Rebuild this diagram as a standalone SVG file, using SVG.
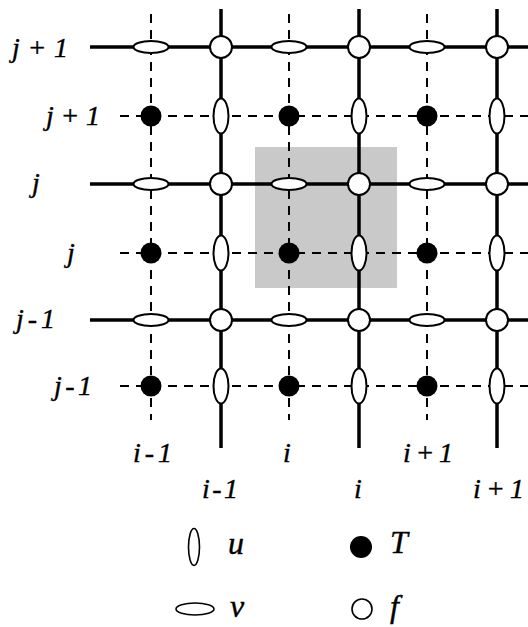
<svg xmlns="http://www.w3.org/2000/svg" width="528" height="627" viewBox="0 0 528 627">
<style>
.lbl{font-family:"Liberation Serif","Times New Roman",serif;font-style:italic;font-size:28px;fill:#000;stroke:#000;stroke-width:0.4}
.leg{font-size:32px}
.sol{stroke:#000;stroke-width:3.5;fill:none}
.dsh{stroke:#000;stroke-width:2;stroke-dasharray:9 7;fill:none}
.u,.v,.f{fill:#fff;stroke:#000;stroke-width:2}
.T{fill:#000}
</style>
<rect x="255" y="147" width="142" height="141" fill="#c9c9c9"/>
<g id="connectors">
<g id="dashed">
<line class="dsh" x1="151" y1="14" x2="151" y2="420"/>
<line class="dsh" x1="289" y1="14" x2="289" y2="420"/>
<line class="dsh" x1="427" y1="14" x2="427" y2="420"/>
<line class="dsh" x1="120" y1="116" x2="528" y2="116"/>
<line class="dsh" x1="120" y1="253" x2="528" y2="253"/>
<line class="dsh" x1="120" y1="386" x2="528" y2="386"/>
</g>
<g id="solid">
<line class="sol" x1="221" y1="9" x2="221" y2="448"/>
<line class="sol" x1="359" y1="9" x2="359" y2="448"/>
<line class="sol" x1="497" y1="9" x2="497" y2="448"/>
<line class="sol" x1="90" y1="47" x2="528" y2="47"/>
<line class="sol" x1="90" y1="184" x2="528" y2="184"/>
<line class="sol" x1="90" y1="320" x2="528" y2="320"/>
</g>
</g>
<g id="v-nodes">
<ellipse class="v" cx="151" cy="47" rx="17.5" ry="6"/>
<ellipse class="v" cx="289" cy="47" rx="17.5" ry="6"/>
<ellipse class="v" cx="427" cy="47" rx="17.5" ry="6"/>
<ellipse class="v" cx="151" cy="184" rx="17.5" ry="6"/>
<ellipse class="v" cx="289" cy="184" rx="17.5" ry="6"/>
<ellipse class="v" cx="427" cy="184" rx="17.5" ry="6"/>
<ellipse class="v" cx="151" cy="320" rx="17.5" ry="6"/>
<ellipse class="v" cx="289" cy="320" rx="17.5" ry="6"/>
<ellipse class="v" cx="427" cy="320" rx="17.5" ry="6"/>
</g>
<g id="u-nodes">
<ellipse class="u" cx="221" cy="116" rx="7.5" ry="17.5"/>
<ellipse class="u" cx="359" cy="116" rx="7.5" ry="17.5"/>
<ellipse class="u" cx="497" cy="116" rx="7.5" ry="17.5"/>
<ellipse class="u" cx="221" cy="253" rx="7.5" ry="17.5"/>
<ellipse class="u" cx="359" cy="253" rx="7.5" ry="17.5"/>
<ellipse class="u" cx="497" cy="253" rx="7.5" ry="17.5"/>
<ellipse class="u" cx="221" cy="386" rx="7.5" ry="17.5"/>
<ellipse class="u" cx="359" cy="386" rx="7.5" ry="17.5"/>
<ellipse class="u" cx="497" cy="386" rx="7.5" ry="17.5"/>
</g>
<g id="f-nodes">
<circle class="f" cx="221" cy="47" r="11"/>
<circle class="f" cx="359" cy="47" r="11"/>
<circle class="f" cx="497" cy="47" r="11"/>
<circle class="f" cx="221" cy="184" r="11"/>
<circle class="f" cx="359" cy="184" r="11"/>
<circle class="f" cx="497" cy="184" r="11"/>
<circle class="f" cx="221" cy="320" r="11"/>
<circle class="f" cx="359" cy="320" r="11"/>
<circle class="f" cx="497" cy="320" r="11"/>
</g>
<g id="T-nodes">
<circle class="T" cx="151" cy="116" r="10.5"/>
<circle class="T" cx="289" cy="116" r="10.5"/>
<circle class="T" cx="427" cy="116" r="10.5"/>
<circle class="T" cx="151" cy="253" r="10.5"/>
<circle class="T" cx="289" cy="253" r="10.5"/>
<circle class="T" cx="427" cy="253" r="10.5"/>
<circle class="T" cx="151" cy="386" r="10.5"/>
<circle class="T" cx="289" cy="386" r="10.5"/>
<circle class="T" cx="427" cy="386" r="10.5"/>
</g>
<g id="row-labels">
<text class="lbl" x="12" y="57" textLength="56" lengthAdjust="spacing">j+1</text>
<text class="lbl" x="46" y="125" textLength="54" lengthAdjust="spacing">j+1</text>
<text class="lbl" x="32" y="192">j</text>
<text class="lbl" x="67" y="262">j</text>
<text class="lbl" x="16" y="328" textLength="39" lengthAdjust="spacing">j-1</text>
<text class="lbl" x="54" y="395" textLength="38" lengthAdjust="spacing">j-1</text>
</g>
<g id="col-labels">
<text class="lbl" x="133" y="462" textLength="39" lengthAdjust="spacing">i-1</text>
<text class="lbl" x="287" y="462" text-anchor="middle">i</text>
<text class="lbl" x="403" y="462" textLength="50" lengthAdjust="spacing">i+1</text>
<text class="lbl" x="202" y="498" textLength="36" lengthAdjust="spacing">i-1</text>
<text class="lbl" x="358" y="498" text-anchor="middle">i</text>
<text class="lbl" x="473" y="498" textLength="51" lengthAdjust="spacing">i+1</text>
</g>
<g id="legend">
<g id="legend-u">
<ellipse cx="194" cy="547" rx="5.5" ry="18.5" fill="#fff" stroke="#000" stroke-width="1.6"/>
<text class="lbl leg" x="228" y="554">u</text>
</g>
<g id="legend-T">
<circle cx="361" cy="547" r="11" fill="#000"/>
<text class="lbl leg" x="390" y="553">T</text>
</g>
<g id="legend-v">
<ellipse cx="195" cy="609" rx="19" ry="6" fill="#fff" stroke="#000" stroke-width="1.6"/>
<text class="lbl leg" x="230" y="617">v</text>
</g>
<g id="legend-f">
<circle cx="362" cy="609" r="10" fill="#fff" stroke="#000" stroke-width="1.6"/>
<text class="lbl leg" x="390" y="617">f</text>
</g>
</g>
</svg>
